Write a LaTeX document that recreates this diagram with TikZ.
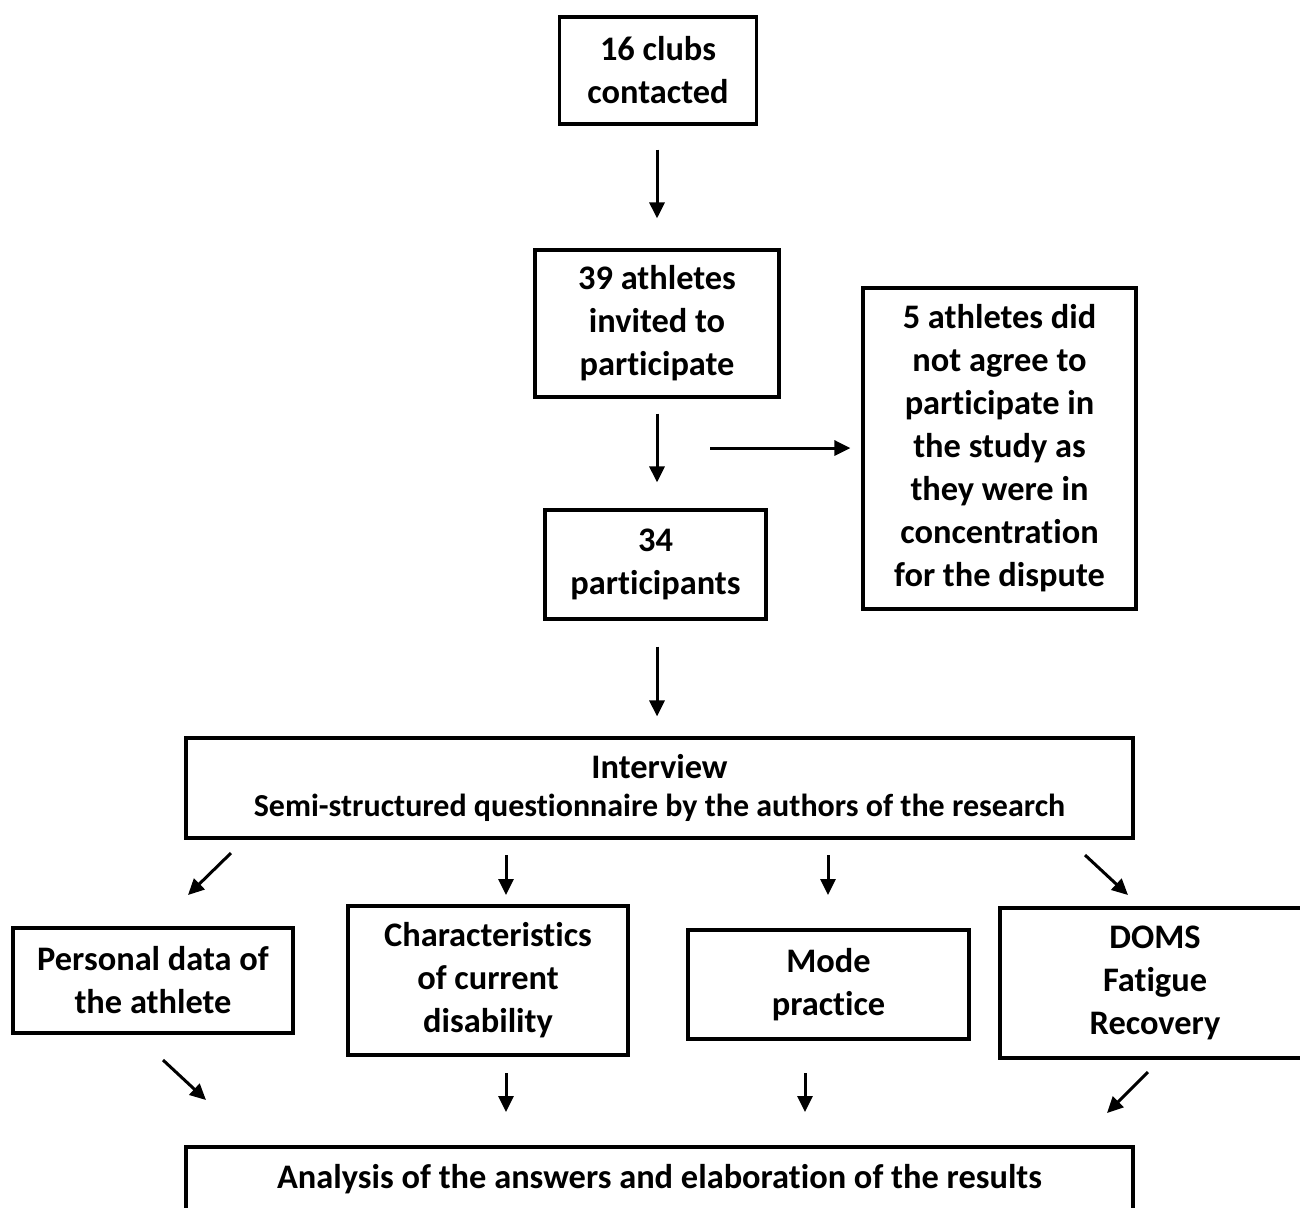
\documentclass[tikz,border=0pt]{standalone}
\usepackage{fontspec}
\setmainfont{Carlito}[Ligatures={NoCommon}]
\usetikzlibrary{arrows.meta}
\newcommand{\mainfnt}{\fontsize{17.2}{21.5}\selectfont\bfseries}
\begin{document}
\begin{tikzpicture}[x=0.5pt,y=-0.5pt,
  box/.style={draw, line width=1.6pt, align=center, inner sep=0pt, font=\mainfnt},
  arr/.style={line width=1.5pt, -{Triangle[length=8pt,width=7.5pt]}}]
\fill[white] (0,0) rectangle (1300,1207);
\useasboundingbox (0,0) rectangle (1300,1207);
\begin{scope}
\clip (0,0) rectangle (1300,1207);
\node[box, minimum width=98.5pt, minimum height=53.5pt] (b1) at (658,70.5) {16 clubs\\contacted};
\node[box, minimum width=122pt, minimum height=73.5pt] (b2) at (657,323.5) {39 athletes\\invited to\\participate};
\node[box, minimum width=136.5pt, minimum height=160.5pt] (b3) at (999.5,448.5) {5 athletes did\\not agree to\\participate in\\the study as\\they were in\\concentration\\for the dispute};
\node[box, minimum width=110.5pt, minimum height=54.5pt] (b4) at (655.5,564.5) {34\\participants};
\node[box, minimum width=473.5pt, minimum height=50pt] (b5) at (659.5,788) {Interview\\[-2.5pt]{\fontsize{16}{19}\selectfont Semi-structured questionnaire by the authors of the research}};
\node[box, minimum width=140pt, minimum height=52.5pt] (p) at (153,980.5) {Personal data of\\the athlete};
\node[box, minimum width=140pt, minimum height=74.5pt] (c) at (488,980.5) {Characteristics\\of current\\disability};
\node[box, minimum width=140.5pt, minimum height=54.5pt] (m) at (828.5,984.5) {Mode\\practice};
\node[box, minimum width=155pt, minimum height=75pt] (d) at (1155,983) {DOMS\\Fatigue\\Recovery};
\node[box, minimum width=473.5pt, minimum height=32.5pt] (res) at (659.5,1179.5) {Analysis of the answers and elaboration of the results};
\end{scope}
\coordinate (v1) at (657,0);
\draw[arr, shorten <=12pt, shorten >=15pt] (v1 |- b1.south) -- (v1 |- b2.north);
\draw[arr, shorten <=7.5pt, shorten >=13pt] (v1 |- b2.south) -- (v1 |- b4.north);
\coordinate (sideS) at (710,448);
\draw[arr, shorten >=5.5pt] (sideS) -- (b3.west |- sideS);
\draw[arr, shorten <=13pt, shorten >=10pt] (v1 |- b4.south) -- (v1 |- b5.north);
\coordinate (i1s) at (231,853); \coordinate (i1e) at (188,895);
\coordinate (i2s) at (506,855); \coordinate (i2e) at (506,895);
\coordinate (i3s) at (828,855); \coordinate (i3e) at (828,895);
\coordinate (i4s) at (1085,855); \coordinate (i4e) at (1128,895);
\coordinate (o1s) at (163,1060); \coordinate (o1e) at (206,1100);
\coordinate (o2s) at (506,1073); \coordinate (o2e) at (506,1112);
\coordinate (o3s) at (805,1073); \coordinate (o3e) at (805,1112);
\coordinate (o4s) at (1148,1072); \coordinate (o4e) at (1107,1113);
\foreach \a in {i1,i2,i3,i4,o1,o2,o3,o4}{\draw[arr] (\a s) -- (\a e);}
\end{tikzpicture}
\end{document}
